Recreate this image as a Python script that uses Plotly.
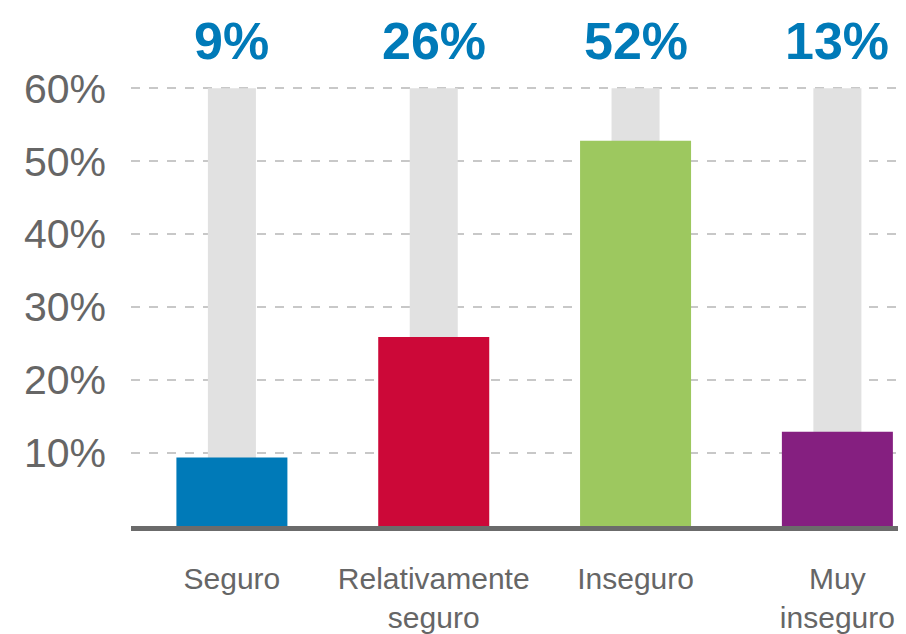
import plotly.graph_objects as go

categories = ["Seguro", "Relativamente<br>seguro", "Inseguro", "Muy<br>inseguro"]
values = [9.4, 25.9, 52.8, 12.9]
top_labels = ["9%", "26%", "52%", "13%"]
background = [60, 60, 60, 60]
bar_colors = ["#007AB8", "#CC0838", "#9DC85F", "#851F80"]
y_ticks = [10, 20, 30, 40, 50, 60]
y_tick_text = ["10%", "20%", "30%", "40%", "50%", "60%"]

fig = go.Figure()
fig.add_trace(go.Bar(x=categories, y=background, width=0.238,
                     marker=dict(color="#E1E1E1", line=dict(width=0)),
                     hoverinfo="skip", showlegend=False))
fig.add_trace(go.Bar(x=categories, y=values, width=0.55,
                     marker=dict(color=bar_colors, line=dict(width=0)),
                     showlegend=False))

for c, t in zip(categories, top_labels):
    fig.add_annotation(x=c, y=60, xref="x", yref="y", text="<b>%s</b>" % t,
                       showarrow=False, yanchor="middle", yshift=47,
                       font=dict(family="Liberation Sans, Arial", size=52, color="#007AB8"))

fig.update_layout(
    width=906, height=634,
    margin=dict(l=123, r=8, t=78, b=116),
    barmode="overlay",
    plot_bgcolor="white", paper_bgcolor="white",
    font=dict(family="Liberation Sans, Arial", color="#666666"),
    xaxis=dict(range=[-0.5, 3.34], showline=True, linecolor="#6B6B6B", linewidth=5,
               showgrid=False, ticks="", tickfont=dict(size=30, color="#666666"),
               ticklabelstandoff=22),
    yaxis=dict(range=[0, 60.3], tickvals=y_ticks, ticktext=y_tick_text,
               showgrid=True, gridcolor="#C8C8C8", griddash="dash", gridwidth=2,
               zeroline=False, showline=False, ticks="",
               tickfont=dict(size=41, color="#666666"), ticklabelstandoff=24),
)

fig.write_html("out.html")
